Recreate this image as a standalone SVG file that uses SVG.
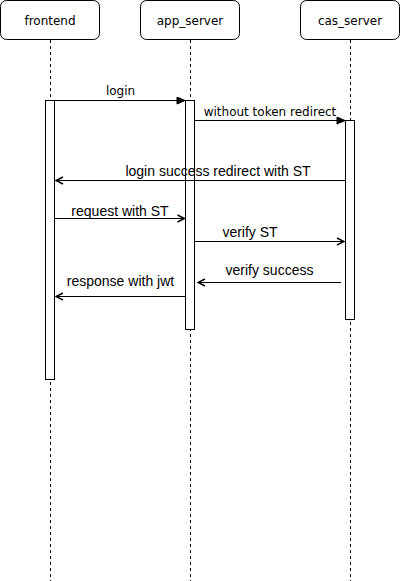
<svg xmlns="http://www.w3.org/2000/svg" width="401" height="581" viewBox="0 0 401 581">
<style>
.hdr{fill:#fff;stroke:#000;stroke-width:1}
.ht{font-family:"DejaVu Sans",sans-serif;font-size:12px;fill:#000;text-anchor:middle}
.life{stroke:#000;stroke-width:1;stroke-dasharray:3 3;fill:none}
.act{fill:#fff;stroke:#000;stroke-width:1}
.msg{stroke:#000;stroke-width:1;fill:none}
.ld{font-family:"DejaVu Sans",sans-serif;font-size:12px;fill:#000;text-anchor:middle}
.la{font-family:"Liberation Sans",Arial,sans-serif;font-size:14px;fill:#000;text-anchor:middle}
</style>
<defs>
<marker id="block" markerWidth="10" markerHeight="8" refX="9" refY="4" orient="auto" markerUnits="userSpaceOnUse">
<path d="M1,0.5 L9,4 L1,7.5 Z" fill="#000" stroke="#000" stroke-width="1"/>
</marker>
<marker id="open" markerWidth="10" markerHeight="10" refX="9" refY="5" orient="auto" markerUnits="userSpaceOnUse">
<path d="M2,1.5 L9,5 L2,8.5" fill="none" stroke="#000" stroke-width="1.5"/>
</marker>
</defs>
<g id="frontend">
<rect class="hdr" x="0.5" y="0.5" width="99" height="39" rx="6"/>
<text class="ht" x="50" y="24.5">frontend</text>
<line class="life" x1="50.5" y1="40" x2="50.5" y2="581"/>
<rect class="act" x="45.5" y="100.5" width="9" height="279"/>
</g>
<g id="app_server">
<rect class="hdr" x="140.5" y="0.5" width="99" height="39" rx="6"/>
<text class="ht" x="190" y="24.5">app_server</text>
<line class="life" x1="190.5" y1="40" x2="190.5" y2="581"/>
<rect class="act" x="185.5" y="100.5" width="9" height="229"/>
</g>
<g id="cas_server">
<rect class="hdr" x="300.5" y="0.5" width="99" height="39" rx="6"/>
<text class="ht" x="350" y="24.5">cas_server</text>
<line class="life" x1="350.5" y1="40" x2="350.5" y2="581"/>
<rect class="act" x="345.5" y="120.5" width="9" height="199"/>
</g>
<g id="connectors">
<line class="msg" x1="55" y1="100.5" x2="185" y2="100.5" marker-end="url(#block)"/>
<text class="ld" x="120.5" y="95">login</text>
<line class="msg" x1="195" y1="120.5" x2="345" y2="120.5" marker-end="url(#block)"/>
<text class="ld" x="270" y="116">without token redirect</text>
<line class="msg" x1="345" y1="180.5" x2="56" y2="180.5" marker-end="url(#open)"/>
<text class="la" x="218" y="176">login success redirect with ST</text>
<line class="msg" x1="55" y1="218.5" x2="184.5" y2="218.5" marker-end="url(#open)"/>
<text class="la" x="120" y="215.5">request with ST</text>
<line class="msg" x1="195" y1="241.5" x2="344" y2="241.5" marker-end="url(#open)"/>
<text class="la" x="250" y="236.5">verify ST</text>
<line class="msg" x1="341" y1="282.5" x2="198" y2="282.5" marker-end="url(#open)"/>
<text class="la" x="269.5" y="275">verify success</text>
<line class="msg" x1="185" y1="296.5" x2="56" y2="296.5" marker-end="url(#open)"/>
<text class="la" x="120.5" y="285.5">response with jwt</text>
</g>
</svg>
